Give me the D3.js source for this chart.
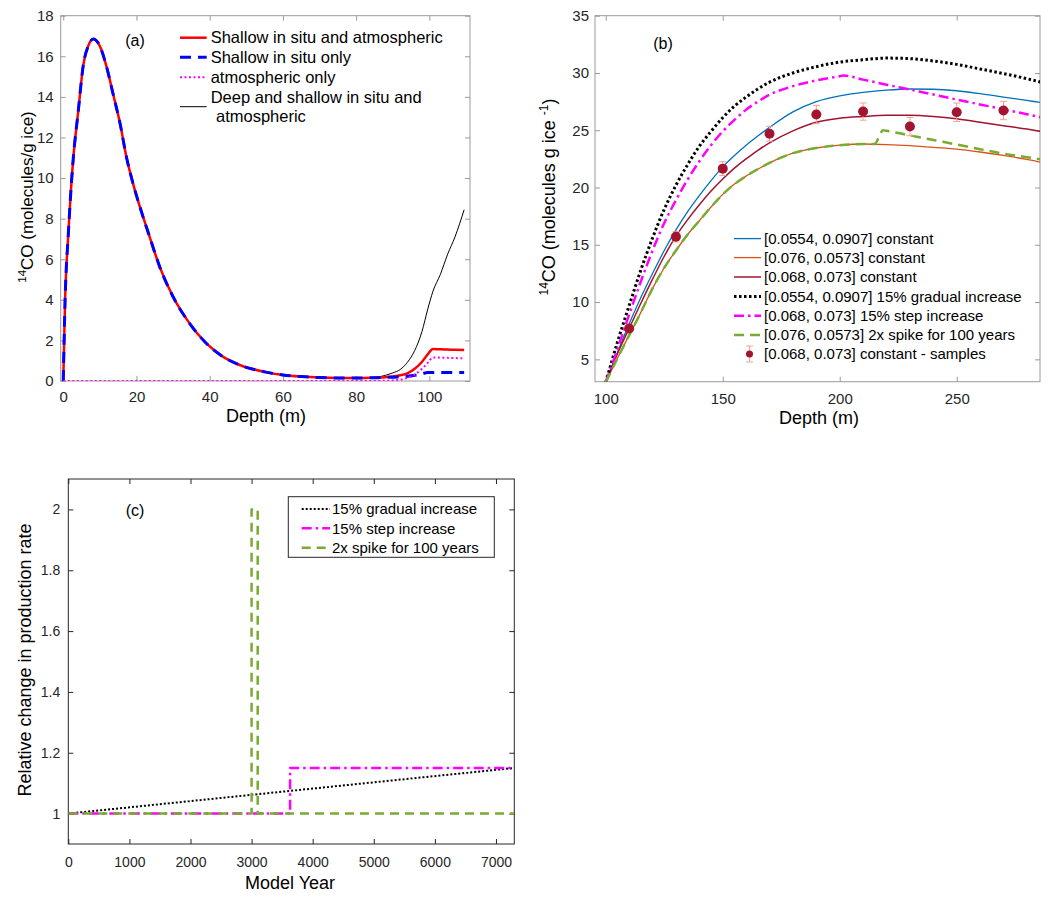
<!DOCTYPE html>
<html>
<head>
<meta charset="utf-8">
<script src="https://cdn.jsdelivr.net/npm/d3@7"></script>
<style>
  body { margin: 0; background: #fff; }
  svg { display: block; }
</style>
</head>
<body>
<svg id="chart" width="1053" height="900"></svg>
<script>
const FONT = '"Liberation Sans", Arial, Helvetica, sans-serif';

// ---------- panel (a): 14CO in the firn column ----------
const depthA = [0, 0.5, 1.4, 2.7, 4.1, 5.5, 6.8, 8.2, 10, 11.8, 13.6, 15.5, 17.3, 19.1, 20.9,
  23.6, 26.4, 30, 34.5, 39.1, 43.6, 48.2, 55, 60, 65, 70, 75, 80, 84,
  86, 88, 90, 92, 94, 96, 98, 99.5, 101, 103, 105, 107, 109.5];
const shallowBoth = [0, 4.0, 7.3, 10.9, 13.3, 15.6, 16.5, 16.85, 16.5, 15.5, 14.15, 12.7, 11.0, 9.7, 8.6,
  7.1, 5.6, 4.15, 2.84, 1.85, 1.2, 0.79, 0.45, 0.3, 0.22, 0.17, 0.15, 0.15, 0.16,
  0.17, 0.19, 0.22, 0.28, 0.38, 0.6, 0.95, 1.3, 1.58, 1.56, 1.55, 1.54, 1.53];
const shallowInSitu = [0, 4.0, 7.3, 10.9, 13.3, 15.6, 16.5, 16.85, 16.5, 15.5, 14.15, 12.7, 11.0, 9.7, 8.6,
  7.1, 5.6, 4.15, 2.84, 1.85, 1.2, 0.79, 0.45, 0.3, 0.22, 0.17, 0.15, 0.15, 0.16,
  0.165, 0.18, 0.19, 0.21, 0.23, 0.28, 0.35, 0.42, 0.42, 0.42, 0.42, 0.42, 0.42];
const atmOnly = [0, 0, 0, 0, 0, 0, 0, 0, 0, 0, 0, 0, 0, 0, 0,
  0, 0, 0, 0, 0, 0, 0, 0, 0, 0, 0, 0, 0, 0,
  0.005, 0.01, 0.03, 0.07, 0.15, 0.32, 0.6, 0.88, 1.16, 1.15, 1.14, 1.13, 1.12];
const deepAndShallow = [0, 4.0, 7.3, 10.9, 13.3, 15.6, 16.5, 16.85, 16.5, 15.5, 14.15, 12.7, 11.0, 9.7, 8.6,
  7.1, 5.6, 4.15, 2.84, 1.85, 1.2, 0.79, 0.45, 0.3, 0.22, 0.17, 0.15, 0.15, 0.16,
  0.2, 0.28, 0.4, 0.56, 0.92, 1.5, 2.45, 3.5, 4.43, 5.25, 6.25, 7.1, 8.44];
const ticksAx = [0, 20, 40, 60, 80, 100];
const ticksAy = [0, 2, 4, 6, 8, 10, 12, 14, 16, 18];

// ---------- panel (b): 14CO below the close-off ----------
const depthB = [100, 105, 110, 115, 120, 125, 130, 135, 140, 145, 150, 155, 160, 165, 170,
  180, 190, 200, 210, 220, 230, 240, 250, 260, 270, 280, 286];
const constHigh = [3.0, 5.6, 8.1, 10.4, 12.5, 14.5, 16.3, 17.9, 19.3, 20.6, 21.8, 22.8, 23.7, 24.5, 25.25,
  26.6, 27.5, 28.0, 28.3, 28.5, 28.6, 28.58, 28.45, 28.2, 27.9, 27.6, 27.42];
const constLow = [3.0, 5.1, 7.1, 9.1, 11.2, 13.0, 14.5, 15.9, 17.1, 18.3, 19.4, 20.3, 21.0, 21.6, 22.15,
  23.0, 23.45, 23.7, 23.8, 23.75, 23.65, 23.5, 23.35, 23.1, 22.8, 22.45, 22.2];
const constMid = [3.0, 5.5, 7.7, 9.9, 12.0, 14.0, 15.75, 17.2, 18.5, 19.7, 20.75, 21.7, 22.5, 23.25, 23.9,
  24.95, 25.7, 26.05, 26.2, 26.3, 26.3, 26.2, 26.0, 25.7, 25.4, 25.1, 24.9];
const gradualB = [3.0, 6.5, 9.7, 12.8, 15.6, 18.1, 20.2, 22.0, 23.6, 24.9, 26.1, 27.1, 27.9, 28.6, 29.2,
  30.0, 30.55, 30.95, 31.15, 31.3, 31.25, 31.05, 30.75, 30.35, 29.95, 29.5, 29.2];
const depthStep = [100, 105, 110, 115, 120, 125, 130, 135, 140, 145, 150, 155, 160, 165, 170,
  180, 190, 200, 201.5, 210, 220, 230, 240, 250, 260, 270, 280, 286];
const stepB = [3.0, 5.9, 8.9, 11.8, 14.5, 16.9, 18.9, 20.7, 22.3, 23.7, 24.9, 25.9, 26.8, 27.5, 28.1,
  28.85, 29.35, 29.72, 29.78, 29.42, 28.98, 28.55, 28.12, 27.68, 27.25, 26.82, 26.4, 26.13];
const depthSpike = [100, 105, 110, 115, 120, 125, 130, 135, 140, 145, 150, 155, 160, 165, 170,
  180, 190, 200, 210, 215, 216.5, 218.5, 220, 230, 240, 250, 260, 270, 280, 286];
const spikeB = [3.0, 5.1, 7.1, 9.1, 11.2, 13.0, 14.5, 15.9, 17.1, 18.3, 19.4, 20.3, 21.0, 21.6, 22.15,
  23.0, 23.45, 23.7, 23.8, 23.8, 24.3, 25.0, 24.95, 24.55, 24.15, 23.75, 23.35, 22.95, 22.65, 22.45];
const sampleDepth = [110, 130, 150, 170, 190, 210, 230, 250, 270];
const sampleVal = [7.7, 15.7, 21.65, 24.7, 26.37, 26.63, 25.32, 26.57, 26.72];
const sampleErr = [0.3, 0.45, 0.6, 0.65, 0.8, 0.75, 0.8, 0.8, 0.8];
const ticksBx = [100, 150, 200, 250];
const ticksBy = [5, 10, 15, 20, 25, 30, 35];

// ---------- panel (c): production rate scenarios ----------
const yearsGradual = [0, 7300];
const gradualC = [1, 1.15];
const yearsStep = [0, 3630, 3630, 7300];
const stepC = [1, 1, 1.15, 1.15];
const yearsSpike = [0, 3000, 3000, 3100, 3100, 7300];
const spikeC = [1, 1, 2, 2, 1, 1];
const ticksCx = [0, 1000, 2000, 3000, 4000, 5000, 6000, 7000];
const ticksCy = [1, 1.2, 1.4, 1.6, 1.8, 2];

const svg = d3.select('#chart').attr('font-family', FONT);

// box with inward ticks on all four sides (matlab style)
function drawAxes(x, y, o) {
  const [x0, x1] = x.range(), [y0, y1] = y.range();
  const g = svg.append('g');
  const put = (axis, tr) => g.append('g')
      .attr('transform', tr)
      .call(axis)
      .attr('font-family', FONT)
      .attr('font-size', o.fontSize)
      .call(a => a.select('.domain').remove())
      .call(a => a.selectAll('line').attr('stroke', o.box))
      .call(a => a.selectAll('text').attr('fill', '#262626'));
  put(d3.axisBottom(x).tickValues(o.xTicks).tickSizeInner(-5).tickSizeOuter(0)
      .tickPadding(o.xPad).tickFormat(String), `translate(0,${y0})`);
  put(d3.axisTop(x).tickValues(o.xTicks).tickSizeInner(-5).tickSizeOuter(0)
      .tickFormat(''), `translate(0,${y1})`);
  put(d3.axisLeft(y).tickValues(o.yTicks).tickSizeInner(-5).tickSizeOuter(0)
      .tickPadding(o.yPad).tickFormat(String), `translate(${x0},0)`);
  put(d3.axisRight(y).tickValues(o.yTicks).tickSizeInner(-5).tickSizeOuter(0)
      .tickFormat(''), `translate(${x1},0)`);
  g.append('rect')
      .attr('x', x0).attr('y', y1)
      .attr('width', x1 - x0).attr('height', y0 - y1)
      .attr('fill', 'none')
      .attr('stroke', o.box);
}

function clipFor(id, x, y) {
  const [x0, x1] = x.range(), [y0, y1] = y.range();
  svg.append('clipPath').attr('id', id)
    .append('rect')
      .attr('x', x0).attr('y', y1)
      .attr('width', x1 - x0).attr('height', y0 - y1);
  return svg.append('g').attr('clip-path', `url(#${id})`);
}

function drawSeries(g, x, y, xs, ys, st, curve = d3.curveLinear) {
  g.append('path')
      .datum(d3.zip(xs, ys))
      .attr('fill', 'none')
      .attr('stroke', st.color)
      .attr('stroke-width', st.width)
      .attr('stroke-dasharray', st.dash || null)
      .attr('stroke-linejoin', 'round')
      .attr('d', d3.line().curve(curve).x(d => x(d[0])).y(d => y(d[1])));
}

function legendLine(x1, x2, yy, st) {
  svg.append('line')
      .attr('x1', x1).attr('x2', x2).attr('y1', yy).attr('y2', yy)
      .attr('stroke', st.color)
      .attr('stroke-width', st.width)
      .attr('stroke-dasharray', st.dash || null);
}

function label(txt, xx, yy, size, anchor = 'middle') {
  return svg.append('text')
      .attr('x', xx).attr('y', yy)
      .attr('font-size', size)
      .attr('text-anchor', anchor)
      .attr('fill', '#000')
      .text(txt);
}

// ================= (a) =================
const xA = d3.scaleLinear().domain([-0.7, 111.1]).range([60.7, 470]);
const yA = d3.scaleLinear().domain([0, 18]).range([381, 15.7]);
drawAxes(xA, yA, { xTicks: ticksAx, yTicks: ticksAy, fontSize: 15, xPad: 10, yPad: 7, box: '#9a9a9a' });

const stylesA = [
  { name: 'Shallow in situ and atmospheric', values: shallowBoth, color: '#ff0000', width: 2.5 },
  { name: 'Shallow in situ only', values: shallowInSitu, color: '#0000ff', width: 3, dash: '11,7' },
  { name: 'atmospheric only', values: atmOnly, color: '#ff00ff', width: 2, dash: '2,2.5' },
  { name: 'Deep and shallow in situ and', values: deepAndShallow, color: '#000', width: 1 },
];
const gA = clipFor('clipA', xA, yA);
// draw black first so the shallow curves sit on top
[stylesA[3], stylesA[0], stylesA[1], stylesA[2]]
  .forEach(s => drawSeries(gA, xA, yA, depthA, s.values, s, d3.curveMonotoneX));

const legendRowsA = [37.7, 57.3, 77.3, 106.7];
stylesA.forEach((s, i) => {
  legendLine(180, 206.7, legendRowsA[i], s);
  label(s.name, 210.7, i === 3 ? 97.3 : legendRowsA[i], 16.5, 'start').attr('dy', '0.35em');
});
label('atmospheric', 216, 116.7, 16.5, 'start').attr('dy', '0.35em');
label('(a)', 135, 40, 16).attr('dy', '0.35em');

label('Depth (m)', 266, 422, 18);
svg.append('text')
    .attr('transform', 'translate(33,197) rotate(-90)')
    .attr('text-anchor', 'middle')
    .attr('font-size', 17)
    .call(t => t.append('tspan').attr('font-size', 11.5).attr('dy', -7).text('14'))
    .call(t => t.append('tspan').attr('dy', 7).text('CO (molecules/g ice)'));

// ================= (b) =================
const xB = d3.scaleLinear().domain([95.4, 285.6]).range([595, 1040]);
const yB = d3.scaleLinear().domain([3.05, 35]).range([381.7, 15.7]);
drawAxes(xB, yB, { xTicks: ticksBx, yTicks: ticksBy, fontSize: 15, xPad: 11.5, yPad: 6, box: '#9a9a9a' });

const stylesB = [
  { name: '[0.0554, 0.0907] constant', xs: depthB, values: constHigh, color: '#0072BD', width: 1.3 },
  { name: '[0.076, 0.0573] constant', xs: depthB, values: constLow, color: '#D95319', width: 1.3 },
  { name: '[0.068, 0.073] constant', xs: depthB, values: constMid, color: '#A2142F', width: 1.5 },
  { name: '[0.0554, 0.0907] 15% gradual increase', xs: depthB, values: gradualB, color: '#000', width: 3, dash: '2.5,2.5' },
  { name: '[0.068, 0.073] 15% step increase', xs: depthStep, values: stepB, color: '#ff00ff', width: 2.5, dash: '10,4,2.5,4' },
  { name: '[0.076, 0.0573] 2x spike for 100 years', xs: depthSpike, values: spikeB, color: '#77AC30', width: 2.5, dash: '10,6' },
];
const gB = clipFor('clipB', xB, yB);
stylesB.forEach(s => drawSeries(gB, xB, yB, s.xs, s.values, s, d3.curveMonotoneX));

// samples with error bars
const errColor = '#F0A48C';
const samples = d3.zip(sampleDepth, sampleVal, sampleErr);
gB.selectAll('.err')
  .data(samples)
  .join('path')
    .attr('class', 'err')
    .attr('fill', 'none')
    .attr('stroke', errColor)
    .attr('stroke-width', 1)
    .attr('d', d => {
      const cx = xB(d[0]), t = yB(d[1] + d[2]), b = yB(d[1] - d[2]);
      return `M${cx},${t}V${b}M${cx - 3.5},${t}H${cx + 3.5}M${cx - 3.5},${b}H${cx + 3.5}`;
    });
gB.selectAll('.pt')
  .data(samples)
  .join('circle')
    .attr('class', 'pt')
    .attr('cx', d => xB(d[0]))
    .attr('cy', d => yB(d[1]))
    .attr('r', 5)
    .attr('fill', '#A2142F');

const legendRowsB = [238.6, 257.6, 277, 296.6, 315.8, 335, 354];
stylesB.forEach((s, i) => {
  legendLine(734, 761, legendRowsB[i], s);
  label(s.name, 764, legendRowsB[i], 15, 'start').attr('dy', '0.35em');
});
svg.append('path')
    .attr('fill', 'none').attr('stroke', errColor)
    .attr('d', 'M749.5,346V362M746,346H753M746,362H753');
svg.append('circle').attr('cx', 749.5).attr('cy', 354).attr('r', 3.5).attr('fill', '#A2142F');
label('[0.068, 0.073] constant - samples', 764, 354, 15, 'start').attr('dy', '0.35em');
label('(b)', 663, 43, 16).attr('dy', '0.35em');

label('Depth (m)', 819, 424, 18);
svg.append('text')
    .attr('transform', 'translate(555,197) rotate(-90)')
    .attr('text-anchor', 'middle')
    .attr('font-size', 18)
    .call(t => t.append('tspan').attr('font-size', 12).attr('dy', -7).text('14'))
    .call(t => t.append('tspan').attr('dy', 7).text('CO (molecules g ice '))
    .call(t => t.append('tspan').attr('font-size', 12).attr('dy', -7).text('-1'))
    .call(t => t.append('tspan').attr('dy', 7).text(')'));

// ================= (c) =================
const xC = d3.scaleLinear().domain([0, 7300]).range([68.3, 514.3]);
const yC = d3.scaleLinear().domain([0.9, 2.1]).range([844, 479]);
drawAxes(xC, yC, { xTicks: ticksCx, yTicks: ticksCy, fontSize: 14, xPad: 13, yPad: 8, box: '#262626' });

const stylesC = [
  { name: '15% gradual increase', xs: yearsGradual, values: gradualC, color: '#000', width: 2, dash: '2,2' },
  { name: '15% step increase', xs: yearsStep, values: stepC, color: '#ff00ff', width: 2.5, dash: '10,4,2.5,4' },
  { name: '2x spike for 100 years', xs: yearsSpike, values: spikeC, color: '#77AC30', width: 2.5, dash: '9,6' },
];
const gC = clipFor('clipC', xC, yC);
stylesC.forEach(s => drawSeries(gC, xC, yC, s.xs, s.values, s));

svg.append('rect')
    .attr('x', 288.3).attr('y', 496.7)
    .attr('width', 206).attr('height', 60.6)
    .attr('fill', '#fff')
    .attr('stroke', '#262626');
const legendRowsC = [509, 528.3, 547.7];
stylesC.forEach((s, i) => {
  legendLine(301.7, 330, legendRowsC[i], s);
  label(s.name, 332, legendRowsC[i], 15, 'start').attr('dy', '0.35em');
});
label('(c)', 135, 510, 16).attr('dy', '0.35em');

label('Model Year', 290, 889, 18);
label('Relative change in production rate', 0, 0, 18)
    .attr('transform', 'translate(31,660) rotate(-90)');
</script>
</body>
</html>
